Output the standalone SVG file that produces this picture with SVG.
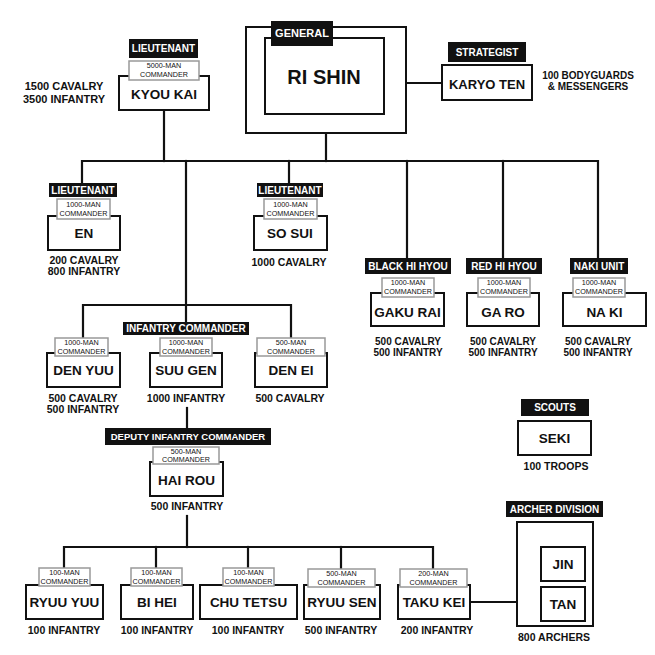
<svg xmlns="http://www.w3.org/2000/svg" width="655" height="655" viewBox="0 0 655 655">
<style>
  .bg{fill:#fff}
  .box{fill:#fff;stroke:#111;stroke-width:2}
  .cmd{fill:#fff;stroke:#999;stroke-width:1.5}
  .lab{fill:#111}
  .conn{stroke:#111;stroke-width:2.2;fill:none;stroke-linecap:square}
  text{font-family:"Liberation Sans",Arial,sans-serif;text-anchor:middle;fill:#111}
  .lt{fill:#fff;font-weight:bold;font-size:10px}
  .nm{font-weight:bold;font-size:13.5px}
  .st{font-weight:bold;font-size:10.5px}
  .st2{font-weight:bold;font-size:10px}
  .cm{font-size:7.2px}
</style>
<rect class="bg" x="0" y="0" width="655" height="655"/>
<g id="connectors">
  <path class="conn" d="M384 83H442"/>
  <path class="conn" d="M326 133V161"/>
  <path class="conn" d="M164 110V161"/>
  <path class="conn" d="M82 183V161H598V258"/>
  <path class="conn" d="M289 161V183"/>
  <path class="conn" d="M407 161V258"/>
  <path class="conn" d="M503 161V258"/>
  <path class="conn" d="M186 161V322"/>
  <path class="conn" d="M83 338V305H291V338"/>
  <path class="conn" d="M187 408V428"/>
  <path class="conn" d="M187 516V547"/>
  <path class="conn" d="M64 568V547H433V568"/>
  <path class="conn" d="M156 547V568"/>
  <path class="conn" d="M248 547V568"/>
  <path class="conn" d="M341 547V568"/>
  <path class="conn" d="M470 602H517"/>
</g>
<g id="ri-shin">
  <rect class="box" x="246" y="27" width="160" height="106"/>
  <rect class="box" x="265" y="38" width="119" height="76"/>
  <rect class="lab" x="271" y="21" width="62" height="25"/>
  <text class="lt" style="font-size:11px" x="302" y="37.4">GENERAL</text>
  <text style="font-weight:bold;font-size:20px" x="324" y="84">RI SHIN</text>
</g>
<g id="karyo-ten">
  <rect class="lab" x="448" y="42" width="78" height="20"/>
  <text class="lt" x="487" y="55.6">STRATEGIST</text>
  <rect class="box" x="442" y="65" width="90" height="35"/>
  <text class="nm" style="font-size:13px" x="487" y="88.5">KARYO TEN</text>
  <text class="st2" x="588" y="79.3">100 BODYGUARDS</text>
  <text class="st2" x="588" y="90">&amp; MESSENGERS</text>
</g>
<g id="kyou-kai">
  <rect class="lab" x="129" y="39" width="69" height="19"/>
  <text class="lt" x="163.5" y="52.1">LIEUTENANT</text>
  <rect class="box" x="119" y="76" width="90" height="34"/>
  <rect class="cmd" x="129" y="61" width="70" height="19"/>
  <text class="cm" x="164" y="68.1">5000-MAN</text>
  <text class="cm" x="164" y="77.1">COMMANDER</text>
  <text class="nm" x="164" y="98.8">KYOU KAI</text>
  <text class="st" style="font-size:11px" x="64" y="90">1500 CAVALRY</text>
  <text class="st" style="font-size:11px" x="64" y="103">3500 INFANTRY</text>
</g>
<g id="en">
  <rect class="lab" x="49" y="183" width="68" height="14"/>
  <text class="lt" x="83" y="193.6">LIEUTENANT</text>
  <rect class="box" x="48" y="216" width="72" height="34"/>
  <rect class="cmd" x="57" y="199" width="53" height="20"/>
  <text class="cm" x="83.5" y="206.6">1000-MAN</text>
  <text class="cm" x="83.5" y="215.6">COMMANDER</text>
  <text class="nm" x="84" y="237.8">EN</text>
  <text class="st" x="84" y="263.8">200 CAVALRY</text>
  <text class="st" x="84" y="274.8">800 INFANTRY</text>
</g>
<g id="so-sui">
  <rect class="lab" x="257" y="183" width="66" height="14"/>
  <text class="lt" x="290" y="193.6">LIEUTENANT</text>
  <rect class="box" x="254" y="216" width="73" height="34"/>
  <rect class="cmd" x="264" y="199" width="53" height="20"/>
  <text class="cm" x="290.5" y="206.6">1000-MAN</text>
  <text class="cm" x="290.5" y="215.6">COMMANDER</text>
  <text class="nm" x="290" y="237.8">SO SUI</text>
  <text class="st" x="289" y="265.8">1000 CAVALRY</text>
</g>
<g id="gaku-rai">
  <rect class="lab" x="365" y="258" width="86" height="16"/>
  <text class="lt" x="408" y="269.6">BLACK HI HYOU</text>
  <rect class="box" x="371" y="293" width="73" height="33"/>
  <rect class="cmd" x="382" y="278" width="52" height="19"/>
  <text class="cm" x="408" y="285.1">1000-MAN</text>
  <text class="cm" x="408" y="294.1">COMMANDER</text>
  <text class="nm" x="407.5" y="316.8">GAKU RAI</text>
  <text class="st2" x="408" y="345.3">500 CAVALRY</text>
  <text class="st2" x="408" y="356">500 INFANTRY</text>
</g>
<g id="ga-ro">
  <rect class="lab" x="466" y="258" width="76" height="16"/>
  <text class="lt" x="504" y="269.6">RED HI HYOU</text>
  <rect class="box" x="467" y="293" width="72" height="33"/>
  <rect class="cmd" x="478" y="278" width="52" height="19"/>
  <text class="cm" x="504" y="285.1">1000-MAN</text>
  <text class="cm" x="504" y="294.1">COMMANDER</text>
  <text class="nm" x="503" y="316.8">GA RO</text>
  <text class="st2" x="503" y="345.3">500 CAVALRY</text>
  <text class="st2" x="503" y="356">500 INFANTRY</text>
</g>
<g id="na-ki">
  <rect class="lab" x="570" y="258" width="58" height="16"/>
  <text class="lt" x="599" y="269.6">NAKI UNIT</text>
  <rect class="box" x="563" y="293" width="83" height="33"/>
  <rect class="cmd" x="573" y="278" width="52" height="19"/>
  <text class="cm" x="599" y="285.1">1000-MAN</text>
  <text class="cm" x="599" y="294.1">COMMANDER</text>
  <text class="nm" x="604.5" y="316.8">NA KI</text>
  <text class="st2" x="598" y="345.3">500 CAVALRY</text>
  <text class="st2" x="598" y="356">500 INFANTRY</text>
</g>
<g id="den-yuu">
  <rect class="box" x="47" y="353" width="73" height="34"/>
  <rect class="cmd" x="55" y="338" width="53" height="18"/>
  <text class="cm" x="81.5" y="344.9">1000-MAN</text>
  <text class="cm" x="81.5" y="353.6">COMMANDER</text>
  <text class="nm" x="83.5" y="374.8">DEN YUU</text>
  <text class="st" x="83" y="401.8">500 CAVALRY</text>
  <text class="st" x="83" y="412.8">500 INFANTRY</text>
</g>
<g id="suu-gen">
  <rect class="lab" x="123" y="322" width="126" height="13"/>
  <text class="lt" x="186" y="332.1">INFANTRY COMMANDER</text>
  <rect class="box" x="150" y="353" width="72" height="34"/>
  <rect class="cmd" x="160" y="338" width="52" height="18"/>
  <text class="cm" x="186" y="344.9">1000-MAN</text>
  <text class="cm" x="186" y="353.6">COMMANDER</text>
  <text class="nm" x="186" y="374.8">SUU GEN</text>
  <text class="st" x="186" y="401.8">1000 INFANTRY</text>
</g>
<g id="den-ei">
  <rect class="box" x="255" y="353" width="72" height="34"/>
  <rect class="cmd" x="257" y="338" width="68" height="18"/>
  <text class="cm" x="291" y="344.9">500-MAN</text>
  <text class="cm" x="291" y="353.6">COMMANDER</text>
  <text class="nm" x="291" y="374.8">DEN EI</text>
  <text class="st" x="290" y="401.8">500 CAVALRY</text>
</g>
<g id="hai-rou">
  <rect class="lab" x="105" y="428" width="166" height="17"/>
  <text class="lt" style="font-size:9.5px" x="188" y="439.9">DEPUTY INFANTRY COMMANDER</text>
  <rect class="box" x="150" y="462" width="73" height="34"/>
  <rect class="cmd" x="153" y="447" width="66" height="17"/>
  <text class="cm" x="186" y="453.9">500-MAN</text>
  <text class="cm" x="186" y="462.3">COMMANDER</text>
  <text class="nm" x="186.5" y="484.8">HAI ROU</text>
  <text class="st" x="187" y="509.8">500 INFANTRY</text>
</g>
<g id="seki">
  <rect class="lab" x="521" y="399" width="68" height="17"/>
  <text class="lt" x="555" y="411.1">SCOUTS</text>
  <rect class="box" x="518" y="421" width="73" height="34"/>
  <text class="nm" x="554.5" y="442.8">SEKI</text>
  <text class="st" x="556" y="469.8">100 TROOPS</text>
</g>
<g id="ryuu-yuu">
  <rect class="box" x="26" y="585" width="77" height="34"/>
  <rect class="cmd" x="39" y="568" width="51" height="18"/>
  <text class="cm" x="64.5" y="575.1">100-MAN</text>
  <text class="cm" x="64.5" y="583.6">COMMANDER</text>
  <text class="nm" x="64.5" y="606.8">RYUU YUU</text>
  <text class="st" x="64" y="633.8">100 INFANTRY</text>
</g>
<g id="bi-hei">
  <rect class="box" x="121" y="585" width="72" height="34"/>
  <rect class="cmd" x="131" y="568" width="51" height="18"/>
  <text class="cm" x="156.5" y="575.1">100-MAN</text>
  <text class="cm" x="156.5" y="583.6">COMMANDER</text>
  <text class="nm" x="157" y="606.8">BI HEI</text>
  <text class="st" x="157" y="633.8">100 INFANTRY</text>
</g>
<g id="chu-tetsu">
  <rect class="box" x="200" y="585" width="97" height="34"/>
  <rect class="cmd" x="223" y="568" width="51" height="18"/>
  <text class="cm" x="248.5" y="575.1">100-MAN</text>
  <text class="cm" x="248.5" y="583.6">COMMANDER</text>
  <text class="nm" x="248.5" y="606.8">CHU TETSU</text>
  <text class="st" x="248" y="633.8">100 INFANTRY</text>
</g>
<g id="ryuu-sen">
  <rect class="box" x="304" y="585" width="76" height="34"/>
  <rect class="cmd" x="308" y="569" width="67" height="18"/>
  <text class="cm" x="341.5" y="576.1">500-MAN</text>
  <text class="cm" x="341.5" y="584.6">COMMANDER</text>
  <text class="nm" x="342" y="606.8">RYUU SEN</text>
  <text class="st" x="341" y="633.8">500 INFANTRY</text>
</g>
<g id="taku-kei">
  <rect class="box" x="398" y="585" width="72" height="34"/>
  <rect class="cmd" x="400" y="569" width="67" height="18"/>
  <text class="cm" x="433.5" y="576.1">200-MAN</text>
  <text class="cm" x="433.5" y="584.6">COMMANDER</text>
  <text class="nm" x="434" y="606.8">TAKU KEI</text>
  <text class="st" x="437" y="633.8">200 INFANTRY</text>
</g>
<g id="archer-division">
  <rect class="lab" x="506" y="501" width="97" height="16"/>
  <text class="lt" x="554.5" y="512.6">ARCHER DIVISION</text>
  <rect class="box" x="517" y="522" width="76" height="104"/>
  <rect class="box" x="541" y="547" width="44" height="34"/>
  <text class="nm" x="563" y="568.8">JIN</text>
  <rect class="box" x="541" y="587" width="44" height="34"/>
  <text class="nm" x="563" y="608.8">TAN</text>
  <text class="st" x="554" y="640.8">800 ARCHERS</text>
</g>
</svg>
